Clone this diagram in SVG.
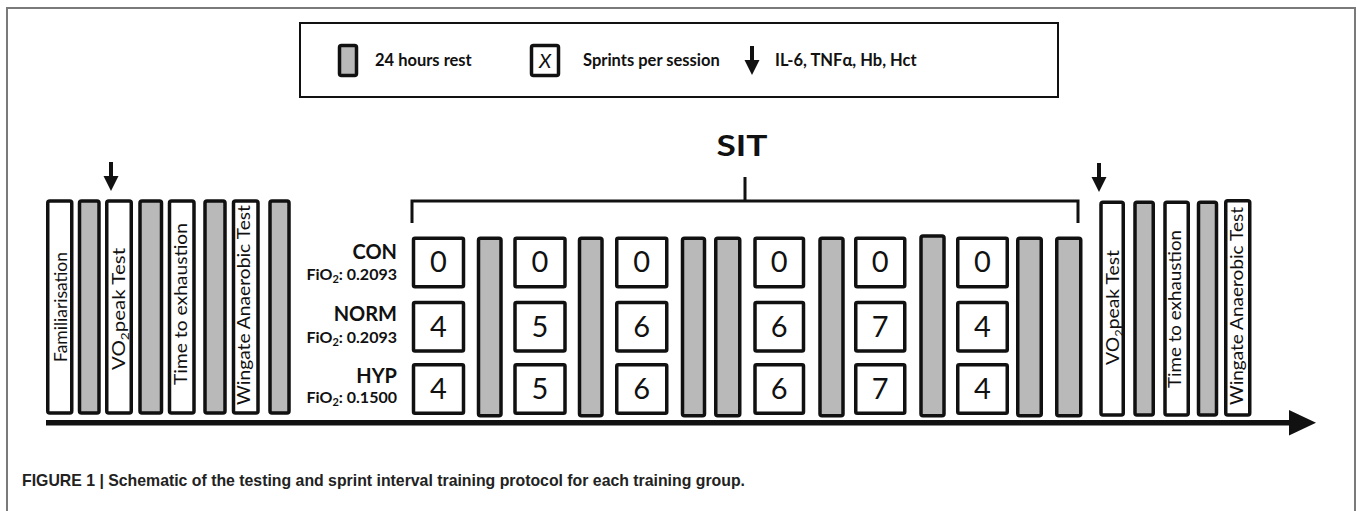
<svg xmlns="http://www.w3.org/2000/svg" width="1357" height="511" viewBox="0 0 1357 511">
<style>
.frame{fill:none;stroke:#7a7a7a;stroke-width:2}
.bar{stroke:#111;stroke-width:3.5}
.rest{fill:#b9b9b9}
.test{fill:#fff}
.box{fill:#fff;stroke:#111;stroke-width:3.5}
.num{font-family:Lato,"Open Sans",sans-serif;font-size:29px;text-anchor:middle;fill:#111}
.vlab{font-family:Lato,"Open Sans",sans-serif;font-size:18px;fill:#111}
.grp{font-family:Lato,"Open Sans",sans-serif;font-weight:bold;font-size:20px;text-anchor:end;fill:#111}
.fio{font-family:Lato,"Open Sans",sans-serif;font-weight:bold;font-size:16px;text-anchor:end;fill:#111}
.leg{font-family:Lato,"Open Sans",sans-serif;font-weight:bold;font-size:16.5px;fill:#111}
.line{fill:none;stroke:#111;stroke-width:3}
.cap{font-family:"Liberation Sans",Arial,sans-serif;font-weight:bold;font-size:17px;fill:#222}
</style>
<defs>
<g id="down"><rect x="-2" y="0" width="4" height="16"/><polygon points="-7.5,14 7.5,14 0,29"/></g>
</defs>
<path d="M7,511 V8 H1355 V511" class="frame"/>
<g id="legend">
<rect x="300" y="23" width="758" height="74" fill="#fff" stroke="#111" stroke-width="2"/>
<rect x="339.5" y="45.5" width="17" height="30" rx="2" class="bar rest"/>
<text x="375" y="66" class="leg">24 hours rest</text>
<rect x="531.5" y="45.5" width="27" height="30" rx="2" class="box"/>
<text x="545" y="68" font-family="Lato,'Open Sans',sans-serif" font-style="italic" font-size="20" text-anchor="middle" fill="#111">X</text>
<text x="583" y="66" class="leg">Sprints per session</text>
<use href="#down" x="752" y="46" fill="#111"/>
<text x="775" y="66" class="leg">IL-6, TNFα, Hb, Hct</text>
</g>
<g id="pre-tests">
<use href="#down" x="111" y="162" fill="#111"/>
<rect x="47.75" y="201" width="24" height="212" rx="2" class="bar test"/>
<rect x="79.5" y="201" width="19.5" height="212" rx="2" class="bar rest"/>
<rect x="106.75" y="201" width="24.5" height="212" rx="2" class="bar test"/>
<rect x="140" y="201" width="21.5" height="212" rx="2" class="bar rest"/>
<rect x="169.5" y="201" width="24.5" height="212" rx="2" class="bar test"/>
<rect x="205" y="201" width="20" height="212" rx="2" class="bar rest"/>
<rect x="233.5" y="201" width="24.5" height="212" rx="2" class="bar test"/>
<rect x="270" y="201" width="19" height="212" rx="2" class="bar rest"/>
<text transform="translate(67,362) rotate(-90)" class="vlab" textLength="110" lengthAdjust="spacingAndGlyphs">Familiarisation</text>
<text transform="translate(125,370) rotate(-90)" class="vlab" textLength="122" lengthAdjust="spacingAndGlyphs">VO<tspan font-size="12" dy="4">2</tspan><tspan dy="-4">peak Test</tspan></text>
<text transform="translate(187,385) rotate(-90)" class="vlab" textLength="162" lengthAdjust="spacingAndGlyphs">Time to exhaustion</text>
<text transform="translate(250,405) rotate(-90)" class="vlab" textLength="200" lengthAdjust="spacingAndGlyphs">Wingate Anaerobic Test</text>
</g>
<g id="groups">
<text x="397" y="259" class="grp">CON</text>
<text x="397" y="280" class="fio">FiO<tspan font-size="11" dy="3">2</tspan><tspan dy="-3">: 0.2093</tspan></text>
<text x="397" y="321" class="grp">NORM</text>
<text x="397" y="343" class="fio">FiO<tspan font-size="11" dy="3">2</tspan><tspan dy="-3">: 0.2093</tspan></text>
<text x="397" y="383" class="grp">HYP</text>
<text x="397" y="403" class="fio">FiO<tspan font-size="11" dy="3">2</tspan><tspan dy="-3">: 0.1500</tspan></text>
</g>
<g id="sit">
<text x="742" y="156" font-family="Lato,'Open Sans',sans-serif" font-weight="bold" font-size="29" text-anchor="middle" fill="#111" textLength="51" lengthAdjust="spacingAndGlyphs">SIT</text>
<path d="M412,223 V201 H1078 V223 M745,177 V201" class="line"/>
</g>
<g id="sessions">
<g id="rest-days">
<rect x="478.5" y="238.25" width="22.5" height="177.5" rx="2" class="bar rest"/>
<rect x="579.5" y="238.25" width="22.5" height="177.5" rx="2" class="bar rest"/>
<rect x="682.5" y="238.25" width="22" height="177.5" rx="2" class="bar rest"/>
<rect x="715.75" y="238.25" width="24" height="177.5" rx="2" class="bar rest"/>
<rect x="820" y="238.25" width="23" height="177.5" rx="2" class="bar rest"/>
<rect x="921" y="236" width="23" height="179.75" rx="2" class="bar rest"/>
<rect x="1017.75" y="238.25" width="23.5" height="177.5" rx="2" class="bar rest"/>
<rect x="1056.75" y="238.25" width="24" height="177.5" rx="2" class="bar rest"/>
</g>
<g id="s1">
<rect x="413.5" y="238.25" width="50" height="48.5" rx="1.5" class="box"/><text x="438.5" y="272" class="num">0</text>
<rect x="413.5" y="302.5" width="50" height="48.5" rx="1.5" class="box"/><text x="438.5" y="337" class="num">4</text>
<rect x="413.5" y="364.75" width="50" height="48.5" rx="1.5" class="box"/><text x="438.5" y="399" class="num">4</text>
</g>
<g id="s2">
<rect x="515" y="238.25" width="50" height="48.5" rx="1.5" class="box"/><text x="540" y="272" class="num">0</text>
<rect x="515" y="302.5" width="50" height="48.5" rx="1.5" class="box"/><text x="540" y="337" class="num">5</text>
<rect x="515" y="364.75" width="50" height="48.5" rx="1.5" class="box"/><text x="540" y="399" class="num">5</text>
</g>
<g id="s3">
<rect x="616.75" y="238.25" width="50" height="48.5" rx="1.5" class="box"/><text x="641.75" y="272" class="num">0</text>
<rect x="616.75" y="302.5" width="50" height="48.5" rx="1.5" class="box"/><text x="641.75" y="337" class="num">6</text>
<rect x="616.75" y="364.75" width="50" height="48.5" rx="1.5" class="box"/><text x="641.75" y="399" class="num">6</text>
</g>
<g id="s4">
<rect x="755" y="238.25" width="48.5" height="48.5" rx="1.5" class="box"/><text x="779.25" y="272" class="num">0</text>
<rect x="755" y="302.5" width="48.5" height="48.5" rx="1.5" class="box"/><text x="779.25" y="337" class="num">6</text>
<rect x="755" y="364.75" width="48.5" height="48.5" rx="1.5" class="box"/><text x="779.25" y="399" class="num">6</text>
</g>
<g id="s5">
<rect x="855.75" y="238.25" width="49" height="48.5" rx="1.5" class="box"/><text x="880.25" y="272" class="num">0</text>
<rect x="855.75" y="302.5" width="49" height="48.5" rx="1.5" class="box"/><text x="880.25" y="337" class="num">7</text>
<rect x="855.75" y="364.75" width="49" height="48.5" rx="1.5" class="box"/><text x="880.25" y="399" class="num">7</text>
</g>
<g id="s6">
<rect x="957.75" y="238.25" width="49.5" height="48.5" rx="1.5" class="box"/><text x="982.5" y="272" class="num">0</text>
<rect x="957.75" y="302.5" width="49.5" height="48.5" rx="1.5" class="box"/><text x="982.5" y="337" class="num">4</text>
<rect x="957.75" y="364.75" width="49.5" height="48.5" rx="1.5" class="box"/><text x="982.5" y="399" class="num">4</text>
</g>
</g>
<g id="post-tests">
<use href="#down" x="1099" y="163" fill="#111"/>
<rect x="1101" y="202.25" width="22.25" height="212.75" rx="2" class="bar test"/>
<rect x="1135" y="202.25" width="18.25" height="212.75" rx="2" class="bar rest"/>
<rect x="1165" y="202.25" width="23.25" height="212.75" rx="2" class="bar test"/>
<rect x="1198.5" y="202.25" width="18" height="212.75" rx="2" class="bar rest"/>
<rect x="1225.75" y="200.75" width="24" height="214.25" rx="2" class="bar test"/>
<text transform="translate(1119,365) rotate(-90)" class="vlab" textLength="115" lengthAdjust="spacingAndGlyphs">VO<tspan font-size="12" dy="4">2</tspan><tspan dy="-4">peak Test</tspan></text>
<text transform="translate(1181,388) rotate(-90)" class="vlab" textLength="158" lengthAdjust="spacingAndGlyphs">Time to exhaustion</text>
<text transform="translate(1243,405) rotate(-90)" class="vlab" textLength="198" lengthAdjust="spacingAndGlyphs">Wingate Anaerobic Test</text>
</g>
<g id="connectors">
<rect x="46" y="420" width="1246" height="5.5" fill="#111"/>
<polygon points="1289,410 1316,422.75 1289,435.5" fill="#111"/>
</g>
<text x="22" y="486" class="cap" textLength="723" lengthAdjust="spacingAndGlyphs">FIGURE 1 | Schematic of the testing and sprint interval training protocol for each training group.</text>
</svg>
